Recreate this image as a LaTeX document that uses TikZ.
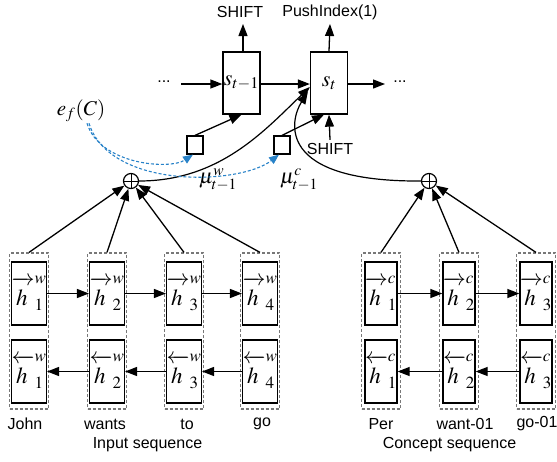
\documentclass[tikz,border=0pt]{standalone}
\usepackage{mathptmx}
\usepackage[no-math]{fontspec}
\setmainfont{Liberation Sans}
\usetikzlibrary{arrows.meta}
\definecolor{dblue}{RGB}{40,130,200}
\definecolor{dgray}{RGB}{120,120,120}
\newcommand{\fwh}[2]{$\overrightarrow{\rule{0pt}{21pt}h\,}^{#1}_{#2}$}
\newcommand{\bwh}[2]{$\overleftarrow{\rule{0pt}{21pt}h\,}^{#1}_{#2}$}
\begin{document}
\begin{tikzpicture}[x=1pt,y=-1pt,
  every node/.style={font=\fontsize{16}{19}\selectfont},
  arr/.style={line width=1.3pt, -{Triangle[length=12pt,width=9pt]}},
  sbox/.style={draw, line width=1.3pt, minimum width=37pt, minimum height=62pt, inner sep=0pt, font=\fontsize{22}{22}\selectfont},
  sqbox/.style={draw, line width=1.2pt, minimum width=16pt, minimum height=18pt, inner sep=0pt},
  hbox/.style={draw, line width=1.3pt, minimum width=31pt, minimum height=63pt, inner sep=0pt, font=\fontsize{23}{23}\selectfont},
  colbox/.style={draw=dgray, dash pattern=on 3pt off 2pt, line width=1.2pt, minimum width=39pt, minimum height=156pt, inner sep=0pt},
  opl/.style={circle, draw, line width=1.2pt, minimum size=15pt, inner sep=0pt,
    path picture={\draw[line width=1pt] (path picture bounding box.north) -- (path picture bounding box.south) (path picture bounding box.west) -- (path picture bounding box.east);}},
  mlab/.style={font=\fontsize{21}{21}\selectfont, inner sep=0pt},
  bluedash/.style={draw=dblue, line width=1.1pt, dash pattern=on 3pt off 2pt, -{Triangle[length=10pt,width=8pt]}}
]
\useasboundingbox (0,0) rectangle (557,461);

% top states
\node[sbox] (st1) at (241.5,83) {$s_{t-1}$};
\node[sbox] (st) at (329,83) {$s_t$};
\node (shiftA) at (240,12) {SHIFT};
\node (push) at (330,12) {PushIndex(1)};
\coordinate (upA) at (243,24);
\coordinate (upB) at (330,24);
\draw[arr] (st1.north -| upA) -- (upA);
\draw[arr] (st.north) -- (upB);
\node (dotsL) at (164,82) {...};
\node (dotsR) at (400,82) {...};
\coordinate (inL) at (181,84);
\coordinate (outR) at (385,84);
\draw[arr] (inL) -- (st1.west |- inL);
\draw[arr] (st1.east |- inL) -- (st.west |- inL);
\draw[arr] (st.east |- inL) -- (outR);
\node (shiftB) at (330,149) {SHIFT};
\draw[arr] (shiftB.north) -- (st.south);

% small squares
\node[sqbox] (sq1) at (195,145) {};
\node[sqbox] (sq2) at (282,145) {};
\draw[arr] (sq1.north) -- (st1.south);
\draw[arr] (sq2.north) -- ([xshift=-5pt]st.south);

% oplus
\node[opl] (opw) at (131,181) {};
\node[opl] (opc) at (429,181) {};
\draw[arr, line width=1.2pt] (opw.east) .. controls (220,181) and (265,130) .. ([yshift=-4pt]st.west);
\draw[arr, line width=1.2pt] (opc.west) .. controls (275,182) and (290,120) .. ([xshift=-2pt,yshift=-9pt]st.west);

% labels
\node[mlab] (ef) at (81,111) {$e_f(C)$};
\node[mlab] (muw) at (218,180) {$\mu^{w}_{t-1}$};
\node[mlab] (muc) at (299,180) {$\mu^{c}_{t-1}$};
\draw[bluedash] ([xshift=6pt,yshift=-1pt]ef.south) .. controls (100,165) and (170,170) .. ([xshift=-2pt]sq1.south);
\draw[bluedash] ([xshift=8pt,yshift=-1pt]ef.south) .. controls (110,190) and (240,185) .. ([xshift=-3pt]sq2.south);

% input sequence
\foreach \i/\x/\lx/\lab in {1/29/25/John, 2/107/105/wants, 3/184/187/to, 4/260/262/go} {
  \node[colbox] (cw\i) at (\x,331) {};
  \node[hbox] (fw\i) at (\x,293.5) {\fwh{w}{\i}};
  \node[hbox] (bw\i) at (\x,371.5) {\bwh{w}{\i}};
  \node (lw\i) at (\lx,424) {\lab};
  \draw[arr] (cw\i.north) -- (opw);
}
\foreach \a/\b in {1/2, 2/3, 3/4} {
  \draw[arr] (fw\a.east) -- (fw\b.west);
  \draw[arr] (bw\b.west) -- (bw\a.east);
}
\node (inseq) at (147.5,445) {Input sequence};

% concept sequence
\foreach \i/\x/\lx/\lab in {1/381/381/Per, 2/459/465/want-01, 3/536/537/go-01} {
  \node[colbox] (cc\i) at (\x,331) {};
  \node[hbox] (fc\i) at (\x,293.5) {\fwh{c}{\i}};
  \node[hbox] (bc\i) at (\x,371.5) {\bwh{c}{\i}};
  \node (lc\i) at (\lx,424) {\lab};
  \draw[arr] (cc\i.north) -- (opc);
}
\foreach \a/\b in {1/2, 2/3} {
  \draw[arr] (fc\a.east) -- (fc\b.west);
  \draw[arr] (bc\b.west) -- (bc\a.east);
}
\node (conseq) at (449.5,445) {Concept sequence};
\end{tikzpicture}
\end{document}
